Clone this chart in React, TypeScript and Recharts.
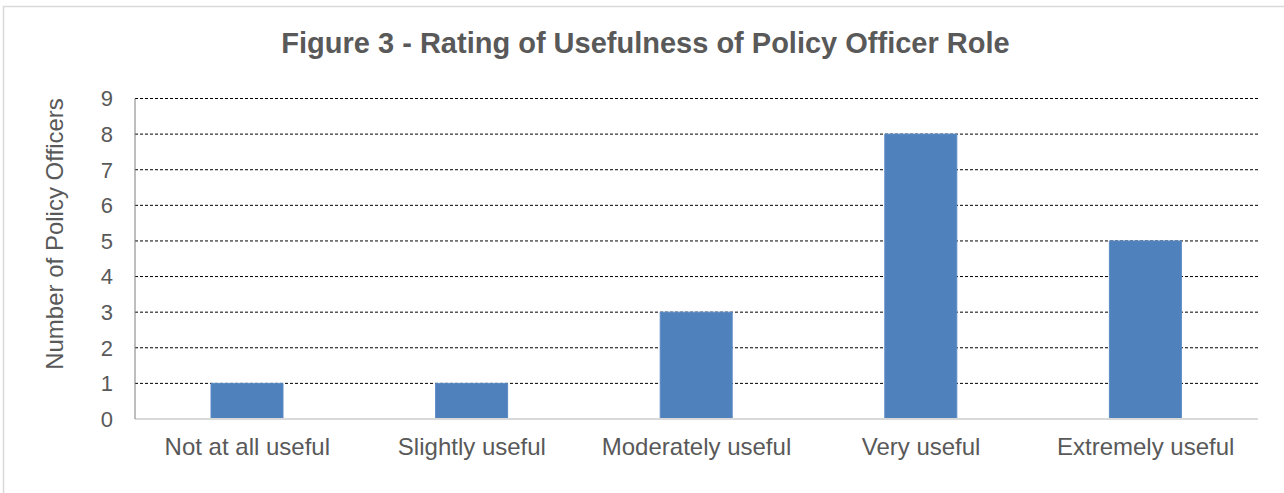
import React from 'react';
import { BarChart, Bar, XAxis, YAxis, CartesianGrid, Label } from 'recharts';

const categories = ['Not at all useful', 'Slightly useful', 'Moderately useful', 'Very useful', 'Extremely useful'];
const counts = [1, 1, 3, 8, 5];
const yTicks = [0, 1, 2, 3, 4, 5, 6, 7, 8, 9];

const data = categories.map((c, i) => ({ name: c, value: counts[i] }));

const FONT = '"Liberation Sans", Arial, sans-serif';
const TXT = '#595959';

const YLabel = () => (
  <text
    x={54}
    y={234}
    transform="rotate(-90 54 234)"
    textAnchor="middle"
    dominantBaseline="central"
    fill={TXT}
    fontSize={24}
    fontFamily={FONT}
  >
    Number of Policy Officers
  </text>
);

export default function App() {
  return (
    <div style={{ position: 'absolute', left: 0, top: 0, width: 1284, height: 493, background: '#fff', overflow: 'hidden' }}>
      <svg width={1284} height={493} style={{ position: 'absolute', left: 0, top: 0 }}>
        <rect x={3.5} y={6.5} width={1400} height={600} fill="none" stroke="#D9D9D9" strokeWidth={1.5} />
      </svg>
      <div
        style={{
          position: 'absolute',
          left: 0,
          top: 28.5,
          width: 1291,
          textAlign: 'center',
          fontFamily: FONT,
          fontWeight: 'bold',
          fontSize: 29,
          lineHeight: '29px',
          color: TXT,
          whiteSpace: 'nowrap',
        }}
      >
        Figure 3 - Rating of Usefulness of Policy Officer Role
      </div>
      <div style={{ position: 'absolute', left: 0, top: 0 }}>
        <BarChart
          width={1284}
          height={493}
          data={data}
          margin={{ top: 98.5, right: 26, bottom: 44, left: 35 }}
          barSize={72}
        >
          <CartesianGrid
            horizontal
            vertical={false}
            stroke="#000"
            strokeDasharray="3 2"
            strokeWidth={1}
          />
          <XAxis
            dataKey="name"
            height={30}
            tickLine={false}
            tickSize={0}
            tickMargin={19}
            axisLine={{ stroke: '#D9D9D9', strokeWidth: 2 }}
            tick={{ fill: TXT, fontSize: 24, fontFamily: FONT }}
            interval={0}
          />
          <YAxis
            width={100}
            domain={[0, 9]}
            ticks={yTicks}
            interval={0}
            tickLine={false}
            tickSize={0}
            tickMargin={22}
            axisLine={{ stroke: '#7F7F7F', strokeWidth: 1 }}
            tick={{ fill: TXT, fontSize: 22, fontFamily: FONT }}
          >
            <Label content={<YLabel />} />
          </YAxis>
          <Bar dataKey="value" fill="#4F81BD" stroke="#5B8BC5" strokeWidth={1} isAnimationActive={false} />
        </BarChart>
      </div>
    </div>
  );
}
